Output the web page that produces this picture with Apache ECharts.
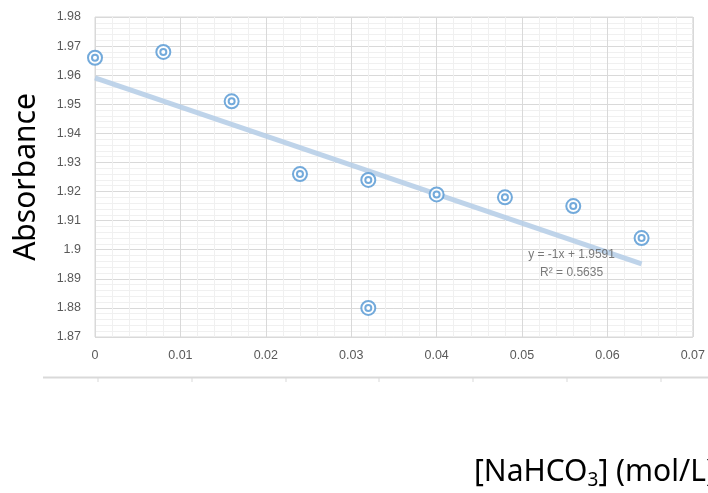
<!DOCTYPE html>
<html><head><meta charset="utf-8">
<script src="https://cdn.jsdelivr.net/npm/echarts@6/dist/echarts.min.js"></script>
<style>html,body{margin:0;padding:0;background:#fff}#c{width:708px;height:493px}</style>
</head><body><div id="c"></div>
<script>
const concentration = [0, 0.008, 0.016, 0.024, 0.032, 0.032, 0.040, 0.048, 0.056, 0.064];
const absorbance = [1.966, 1.968, 1.951, 1.926, 1.924, 1.880, 1.919, 1.918, 1.915, 1.904];
const trendSlope = -1;
const trendIntercept = 1.9591;
const trendRange = [0, 0.064];
const equationText = 'y = -1x + 1.9591';
const r2Text = 'R² = 0.5635';

const points = concentration.map((x, i) => [x, absorbance[i]]);
const trend = trendRange.map(x => [x, trendSlope * x + trendIntercept]);

const chart = echarts.init(document.getElementById('c'));
const gray = '#595959';
const font = '"Liberation Sans", "DejaVu Sans", sans-serif';
const bottomTicks = [98, 192, 286, 379, 473, 567, 661];
const graphics = [
  {type:'line', shape:{x1:43,y1:377.5,x2:708,y2:377.5}, style:{stroke:'#d9d9d9', lineWidth:2}},
  ...bottomTicks.map(x => ({type:'line', shape:{x1:x,y1:378,x2:x,y2:382}, style:{stroke:'#d9d9d9', lineWidth:1}})),
  {type:'text', x:26, y:177, rotation:Math.PI/2, style:{text:'Absorbance', font:'30px "Noto Sans", sans-serif', fill:'#000', align:'center', verticalAlign:'middle'}},
  {type:'text', x:474, y:472, style:{text:'{a|[NaHCO}{s|3}{a|] (mol/L)}', verticalAlign:'middle', rich:{a:{fontSize:30, fontFamily:'"Noto Sans", sans-serif', color:'#000'}, s:{fontSize:19, fontFamily:'"Noto Sans", sans-serif', color:'#000', padding:[18,0,0,0]}}}}
];
chart.setOption({
  animation:false,
  backgroundColor:'#fff',
  grid:{left:95, right:15, top:17, bottom:156, show:true, borderColor:'#d9d9d9', borderWidth:1},
  xAxis:{type:'value', min:0, max:0.07, interval:0.01,
    axisLine:{show:false}, axisTick:{show:false},
    axisLabel:{color:gray, fontSize:12.5, fontFamily:font, margin:12},
    splitLine:{lineStyle:{color:'#d9d9d9', width:1}},
    minorTick:{show:false, splitNumber:5},
    minorSplitLine:{show:true, lineStyle:{color:'#f0f0f0', width:1}}},
  yAxis:{type:'value', min:1.87, max:1.98, interval:0.01,
    axisLine:{show:false}, axisTick:{show:false},
    axisLabel:{color:gray, fontSize:12.5, fontFamily:font, margin:14, formatter:v => String(+v.toFixed(2))},
    splitLine:{lineStyle:{color:'#d9d9d9', width:1}},
    minorTick:{show:false, splitNumber:5},
    minorSplitLine:{show:true, lineStyle:{color:'#f0f0f0', width:1}}},
  series:[
    {type:'line', data:trend, symbol:'none', lineStyle:{color:'#b4cde6', width:5, opacity:0.85}, z:2},
    {type:'scatter', data:points, symbol:'emptyCircle', symbolSize:14,
      itemStyle:{color:'#5b9bd5', borderWidth:1.6, opacity:0.85}, z:3},
    {type:'scatter', data:points, symbol:'emptyCircle', symbolSize:6,
      itemStyle:{color:'#5b9bd5', borderWidth:1.6, opacity:0.85}, z:4},
    {type:'scatter', data:[[0.0558, 1.8951]], symbol:'circle', symbolSize:1, silent:true, z:5,
      itemStyle:{color:'rgba(0,0,0,0)'},
      label:{show:true, position:'inside', formatter:equationText + '\n' + r2Text, color:gray, fontSize:12, fontFamily:font, lineHeight:18, align:'center'}}
  ],
  graphic:graphics
});
</script></body></html>
